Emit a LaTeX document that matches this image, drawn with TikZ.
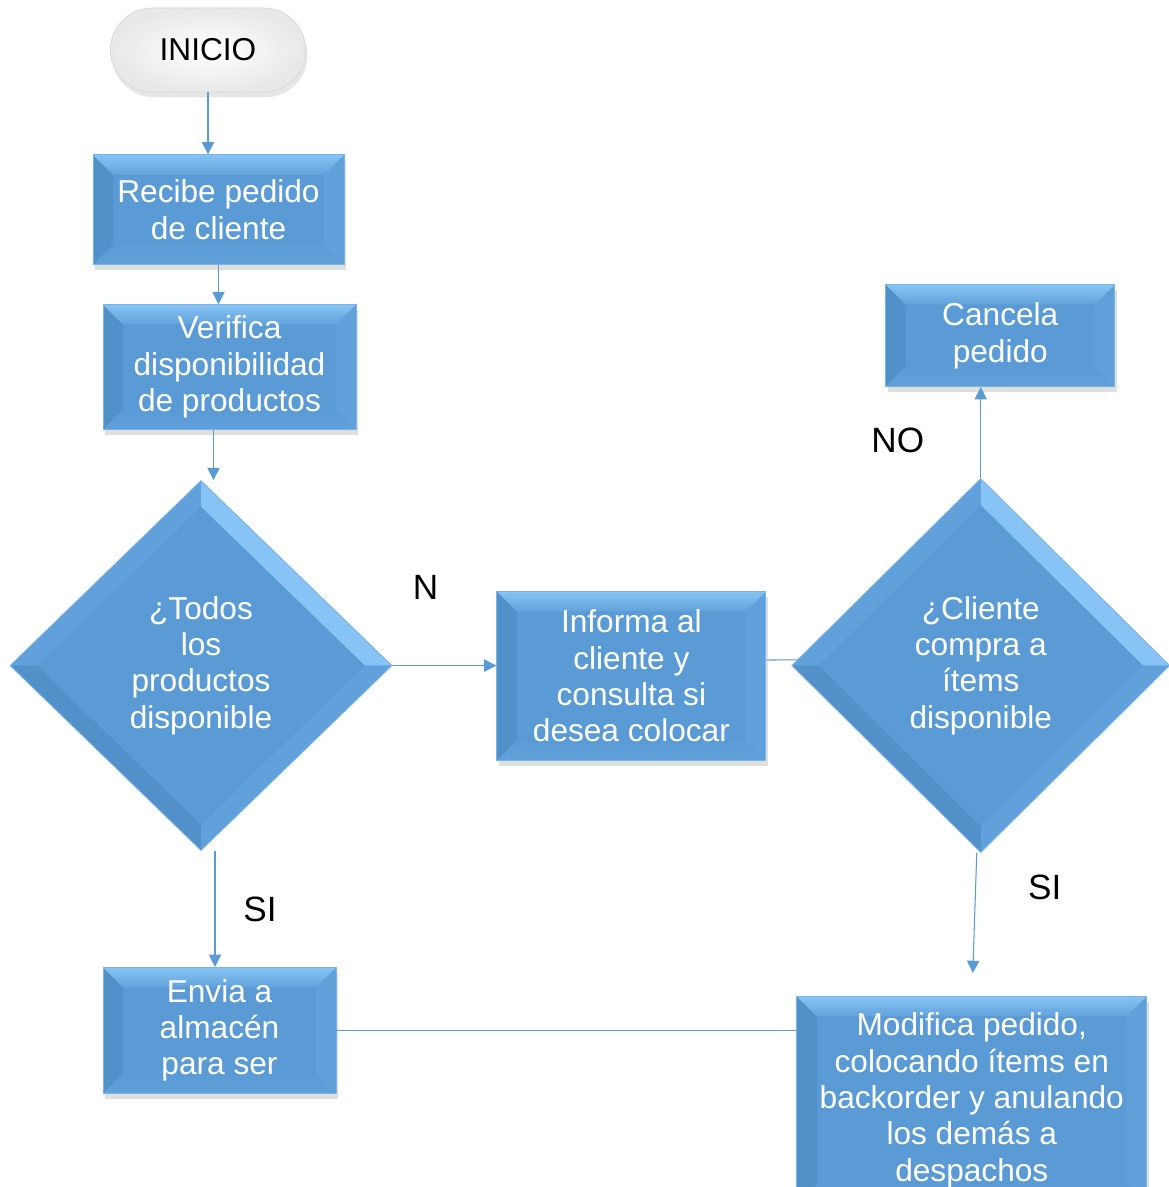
\documentclass[tikz,border=0pt]{standalone}
\usepackage{fontspec}
\setmainfont{Liberation Sans}
\usetikzlibrary{shapes.geometric, shapes.misc, arrows.meta, positioning, shadows, backgrounds, calc}
\usepackage{xcolor}
\definecolor{boxBlue}{RGB}{91,155,213}
\definecolor{boxLight}{RGB}{135,196,245}
\definecolor{boxSide}{RGB}{97,161,219}
\definecolor{boxDark}{RGB}{82,144,202}
\definecolor{boxEdge}{RGB}{120,180,232}
\tikzset{
    font=\fontsize{18}{20.7}\selectfont,
    >={Triangle[length=7pt, width=7pt]},
    % Bevel facets
    bevelRect/.style={path picture={
        \fill[boxDark] (path picture bounding box.north west) -- ([shift={(0.4,-0.4)}]path picture bounding box.north west)
            -- ([shift={(0.4,0.4)}]path picture bounding box.south west) -- (path picture bounding box.south west) -- cycle;
        \fill[boxSide] (path picture bounding box.north east) -- ([shift={(-0.4,-0.4)}]path picture bounding box.north east)
            -- ([shift={(-0.4,0.4)}]path picture bounding box.south east) -- (path picture bounding box.south east) -- cycle;
        \shade[top color=boxBlue, bottom color=boxSide] (path picture bounding box.south west) -- ([shift={(0.4,0.4)}]path picture bounding box.south west)
            -- ([shift={(-0.4,0.4)}]path picture bounding box.south east) -- (path picture bounding box.south east) -- cycle;
        \shade[top color=boxLight, bottom color=boxSide] (path picture bounding box.north west) -- (path picture bounding box.north east)
            -- ([shift={(-0.4,-0.4)}]path picture bounding box.north east) -- ([shift={(0.4,-0.4)}]path picture bounding box.north west) -- cycle;
    }},
    bevelDiamond/.style={path picture={
        \coordinate (ppC) at (path picture bounding box.center);
        \coordinate (ppN) at (path picture bounding box.north);
        \coordinate (ppE) at (path picture bounding box.east);
        \coordinate (ppS) at (path picture bounding box.south);
        \coordinate (ppW) at (path picture bounding box.west);
        \fill[boxSide] (ppW) -- (ppN) -- ($(ppN)!0.14!(ppC)$) -- ($(ppW)!0.14!(ppC)$) -- cycle;
        \fill[boxLight] (ppN) -- (ppE) -- ($(ppE)!0.14!(ppC)$) -- ($(ppN)!0.14!(ppC)$) -- cycle;
        \fill[boxSide] (ppE) -- (ppS) -- ($(ppS)!0.14!(ppC)$) -- ($(ppE)!0.14!(ppC)$) -- cycle;
        \fill[boxDark] (ppS) -- (ppW) -- ($(ppW)!0.14!(ppC)$) -- ($(ppS)!0.14!(ppC)$) -- cycle;
    }},
    % Shapes
    startbox/.style={rounded rectangle, draw=black!15, inner color=white, outer color=black!9,
                     minimum width=4.14cm, minimum height=1.68cm, text=black,
                     drop shadow={opacity=0.2, shadow xshift=1pt, shadow yshift=-3pt}},
    stepbox/.style={rectangle, draw=boxEdge, line width=0.5pt, fill=boxBlue, bevelRect,
                    text=white, align=center, inner xsep=4pt, inner ysep=1pt,
                    drop shadow={opacity=0.25, shadow xshift=1pt, shadow yshift=-3pt}},
    askbox/.style={diamond, aspect=1, draw=boxEdge, line width=0.5pt, fill=boxBlue, bevelDiamond,
                   text=white, align=center, inner sep=0pt},
    % Flow & Labels
    flow/.style={->, line width=0.6pt, boxBlue},
    link/.style={line width=0.6pt, boxBlue},
    lbl/.style={font=\fontsize{20}{24}\selectfont, text=black, inner sep=0pt}
}

\begin{document}
\begin{tikzpicture}[node distance=1cm and 2cm]
\useasboundingbox (0,0) rectangle (23.36,-23.74);

\node[startbox] (inicio) at (4.16,-1.00) {INICIO};
\node[stepbox, minimum width=5.02cm, minimum height=2.2cm, below=1.24cm of inicio, xshift=0.21cm] (recibe) {Recibe pedido\\de cliente};
\node[stepbox, minimum width=5.06cm, minimum height=2.5cm, below=0.78cm of recibe, xshift=0.22cm] (verifica) {Verifica\\disponibilidad\\de productos};
\node[askbox, minimum width=7.64cm, minimum height=7.4cm, below=1.0cm of verifica, xshift=-0.57cm] (todos) {¿Todos\\los\\productos\\disponible};

\node[stepbox, minimum width=5.38cm, minimum height=3.38cm, right=2.08cm of todos, yshift=-0.21cm] (informa) {Informa al\\cliente y\\consulta si\\desea colocar};
\node[askbox, minimum width=7.56cm, minimum height=7.48cm, right=0.5cm of informa, yshift=0.21cm] (compra) {¿Cliente\\compra a\\ítems\\disponible};
\node[stepbox, minimum width=4.58cm, minimum height=2.04cm, above=1.82cm of compra, xshift=0.39cm] (cancela) {Cancela\\pedido};

\node[stepbox, minimum width=4.66cm, minimum height=2.52cm, below=2.32cm of todos, xshift=0.37cm] (envia) {Envia a\\almacén\\para ser};
\node[stepbox, minimum width=7.0cm, minimum height=4.16cm, below=2.86cm of compra, xshift=-0.18cm] (modifica) {Modifica pedido,\\colocando ítems en\\backorder y anulando\\los demás a\\despachos};

\coordinate (siend) at ([xshift=-0.16cm, yshift=-2.4cm]compra.south);

\node[lbl] (lblN) at ([xshift=0.66cm, yshift=1.56cm]todos.east) {N};
\node[lbl] (lblNO) at ([xshift=-1.66cm, yshift=0.76cm]compra.north) {NO};
\node[lbl] (lblSI) at ([xshift=1.18cm, yshift=-1.16cm]todos.south) {SI};
\node[lbl] (lblSIb) at ([xshift=1.28cm, yshift=-0.68cm]compra.south) {SI};

\draw[flow] (inicio.south) -- (inicio.south |- recibe.north);
\draw[flow] (recibe.south) -- (recibe.south |- verifica.north);
\draw[flow] ([xshift=-0.32cm]verifica.south) -- ([xshift=-0.32cm]verifica.south |- todos.north);
\draw[flow] (todos.east) -- (todos.east -| informa.west);
\begin{scope}[on background layer]
\draw[flow] ([yshift=0.32cm]informa.east) -- ([xshift=0.8cm, yshift=0.12cm]compra.west);
\end{scope}
\draw[flow] (compra.north) -- (compra.north |- cancela.south);
\draw[flow] ([xshift=-0.08cm]compra.south) -- (siend);
\draw[flow] ([xshift=-0.09cm]envia.north |- todos.south) -- ([xshift=-0.09cm]envia.north);
\draw[link] (envia.east) -- (envia.east -| modifica.west);

\end{tikzpicture}
\end{document}
